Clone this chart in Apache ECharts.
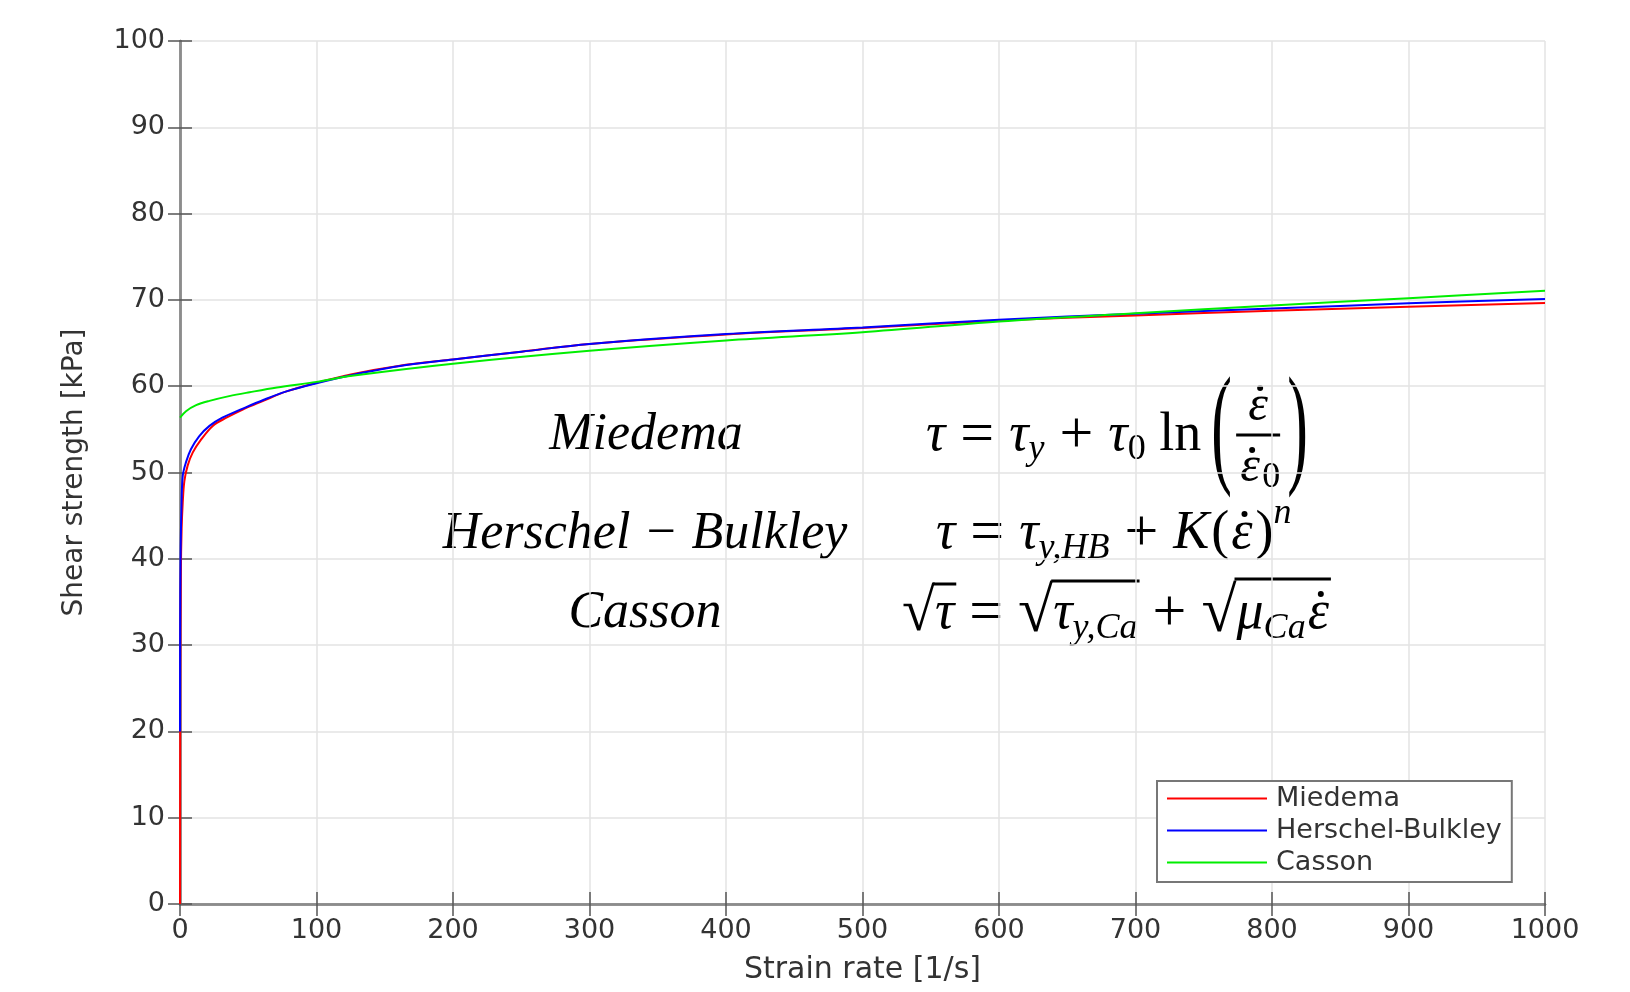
<!DOCTYPE html>
<html>
<head>
<meta charset="utf-8">
<script src="https://cdn.jsdelivr.net/npm/echarts@6/dist/echarts.min.js"></script>
<style>
  html, body { margin: 0; padding: 0; background: #fff; }
  #main { width: 1630px; height: 992px; }
</style>
</head>
<body>
<div id="main"></div>
<script>
// values
var miedemaRate = [0, 0.2, 0.6, 1.2, 2, 3.2, 5.6, 9.3, 15.4, 24, 34, 46, 61, 78, 100, 126, 160, 200, 250, 300, 400, 500, 600, 700, 800, 900, 1000];
var miedemaTau  = [0, 25, 38, 43.5, 46.5, 49, 50.8, 52.3, 53.8, 55.4, 56.35, 57.3, 58.3, 59.4, 60.4, 61.4, 62.35, 63.1, 64.0, 64.9, 66.0, 66.75, 67.6, 68.2, 68.75, 69.2, 69.65];

var hbRate = [0, 0.1, 0.4, 1, 2, 4.4, 8, 14, 21.6, 31, 46, 61, 78, 100, 120, 160, 200, 250, 300, 400, 500, 600, 700, 800, 900, 1000];
var hbTau  = [20, 32, 40, 45.5, 49.6, 51.2, 52.7, 54.2, 55.4, 56.35, 57.4, 58.4, 59.4, 60.35, 61.1, 62.3, 63.1, 64.0, 64.9, 66.05, 66.8, 67.7, 68.4, 69.0, 69.6, 70.1];

var cassonRate = [0, 4.4, 11.8, 21.6, 36, 51, 71, 100, 126, 200, 300, 400, 500, 600, 700, 800, 900, 1000];
var cassonTau  = [56.35, 57.1, 57.8, 58.3, 58.85, 59.3, 59.85, 60.5, 61.2, 62.6, 64.1, 65.3, 66.25, 67.5, 68.45, 69.35, 70.2, 71.05];

var xTicks = { min: 0, max: 1000, interval: 100 };
var yTicks = { min: 0, max: 100, interval: 10 };

function pairs(xs, ys) {
  return xs.map(function (x, i) { return [x, ys[i]]; });
}

// formula layout: pieces set one after the other, widths from canvas
var FF = 'Liberation Serif';
var mctx = document.createElement('canvas').getContext('2d');
function txt(x, y, t, size, italic, align) {
  return {
    type: 'text', x: x, y: y, silent: true,
    style: { text: t, fill: '#000', fontSize: size, fontFamily: FF,
      fontStyle: italic ? 'italic' : 'normal', verticalAlign: 'middle', align: align || 'left' }
  };
}
function dot(x, y) {
  return { type: 'circle', silent: true, shape: { cx: x, cy: y, r: 3 }, style: { fill: '#000' } };
}
function formula(x0, y0, pieces) {
  var els = [];
  var x = x0;
  var overStart = null, overY = 0;
  pieces.forEach(function (p) {
    var size = p.size || 54;
    var italic = p.italic !== false;
    mctx.font = (italic ? 'italic ' : 'normal ') + size + 'px "' + FF + '"';
    var w = mctx.measureText(p.t).width;
    els.push(txt(x, y0 + (p.dy || 0), p.t, size, italic));
    if (p.dot) els.push(dot(x + w * 0.62, y0 - 20));
    if (p.over != null) { overStart = x - 2; overY = y0 + p.over; }
    x += w + (p.gap || 0);
    if (p.overEnd) {
      els.push({ type: 'line', silent: true,
        shape: { x1: overStart, y1: overY, x2: x + 2, y2: overY },
        style: { stroke: '#000', lineWidth: 3 } });
    }
  });
  return { els: els, x: x };
}
function word(cx, cy, t) {
  return txt(cx, cy, t, 52, true, 'center');
}

var graphics = [];
graphics.push(word(646, 435, 'Miedema'));
graphics.push(word(645, 534, 'Herschel \u2212 Bulkley'));
graphics.push(word(645, 613, 'Casson'));

var EQ = { t: ' = ', italic: false, size: 60 };
var PL = { t: ' + ', italic: false, size: 60 };

// Miedema
var f1 = formula(926, 436, [
  { t: 'τ' }, EQ, { t: 'τ' }, { t: 'y', size: 36, dy: 14 },
  PL, { t: 'τ' }, { t: '0', size: 36, dy: 14, italic: false },
  { t: ' ln', italic: false, gap: 10 }
]);
graphics = graphics.concat(f1.els);
var P = f1.x;
var lp = txt(P, 434, '(', 62, false); lp.scaleY = 2.15; graphics.push(lp);
var rp = txt(P + 76, 434, ')', 62, false); rp.scaleY = 2.15; graphics.push(rp);
var fx = P + 47;
graphics.push(txt(fx, 407, 'ε', 50, true, 'center'));
graphics.push(dot(fx + 2, 388));
graphics.push({ type: 'line', silent: true, shape: { x1: fx - 22, y1: 435, x2: fx + 22, y2: 435 }, style: { stroke: '#000', lineWidth: 3 } });
graphics.push(txt(fx - 8, 468, 'ε', 50, true, 'center'));
graphics.push(dot(fx - 6, 450));
graphics.push(txt(fx + 4, 478, '0', 36, false));

// Herschel-Bulkley
var f2 = formula(936, 534, [
  { t: 'τ' }, EQ, { t: 'τ' }, { t: 'y,HB', size: 36, dy: 15 },
  PL, { t: 'K', gap: 2 }, { t: '(', italic: false, gap: 2 }, { t: 'ε', dot: true, gap: 3 }, { t: ')', italic: false },
  { t: 'n', size: 36, dy: -20 }
]);
graphics = graphics.concat(f2.els);

// Casson
var f3 = formula(902, 614, [
  { t: '√', italic: false, size: 60 }, { t: 'τ', over: -30, overEnd: true }, EQ,
  { t: '√', italic: false, size: 64 }, { t: 'τ', over: -33 }, { t: 'y,Ca', size: 36, dy: 15, overEnd: true },
  PL,
  { t: '√', italic: false, size: 64 }, { t: 'μ', over: -35 }, { t: 'Ca', size: 36, dy: 15, gap: 2 }, { t: 'ε', dot: true, overEnd: true }
]);
graphics = graphics.concat(f3.els);

var chart = echarts.init(document.getElementById('main'));
var axisLineStyle = { color: '#8c8c8c', width: 2.5 };
var tickStyle = { color: '#555', width: 1.5 };
var splitStyle = { color: '#e3e3e3', width: 1.5 };
var labelFont = { fontFamily: 'DejaVu Sans', fontSize: 27, color: '#333', formatter: function (v) { return String(v); } };

chart.setOption({
  animation: false,
  backgroundColor: '#fff',
  grid: { left: 180, right: 85, top: 41, bottom: 88 },
  legend: {
    left: 1157, top: 781, orient: 'vertical',
    icon: 'rect', itemWidth: 100, itemHeight: 2, itemGap: 5,
    padding: [4, 10, 6, 10],
    borderColor: '#777', borderWidth: 2, backgroundColor: '#fff',
    textStyle: { fontFamily: 'DejaVu Sans', fontSize: 27, color: '#333', lineHeight: 26, padding: [0, 0, 0, 4] },
    data: ['Miedema', 'Herschel-Bulkley', 'Casson']
  },
  xAxis: [{
    type: 'value', min: xTicks.min, max: xTicks.max, interval: xTicks.interval,
    name: 'Strain rate [1/s]', nameLocation: 'middle', nameGap: 51,
    nameTextStyle: { fontFamily: 'DejaVu Sans', fontSize: 30, color: '#333' },
    axisLine: { show: true, lineStyle: axisLineStyle },
    axisTick: { show: true, inside: true, length: 12, lineStyle: tickStyle },
    axisLabel: Object.assign({ margin: 13 }, labelFont),
    splitLine: { show: true, lineStyle: splitStyle }
  }, {
    type: 'value', position: 'top', min: xTicks.min, max: xTicks.max, interval: xTicks.interval,
    axisLine: { show: true, lineStyle: axisLineStyle },
    axisTick: { show: true, inside: true, length: 12, lineStyle: tickStyle },
    axisLabel: { show: false }, splitLine: { show: false }
  }],
  yAxis: [{
    type: 'value', min: yTicks.min, max: yTicks.max, interval: yTicks.interval,
    name: 'Shear strength [kPa]', nameLocation: 'middle', nameGap: 91, nameRotate: 90,
    nameTextStyle: { fontFamily: 'DejaVu Sans', fontSize: 28, color: '#333' },
    axisLine: { show: true, lineStyle: axisLineStyle },
    axisTick: { show: true, inside: true, length: 12, lineStyle: tickStyle },
    axisLabel: Object.assign({ margin: 15 }, labelFont),
    splitLine: { show: true, lineStyle: splitStyle }
  }, {
    type: 'value', position: 'right', min: yTicks.min, max: yTicks.max, interval: yTicks.interval,
    axisLine: { show: true, lineStyle: axisLineStyle },
    axisTick: { show: true, inside: true, length: 12, lineStyle: tickStyle },
    axisLabel: { show: false }, splitLine: { show: false }
  }],
  series: [{
    name: 'Miedema', type: 'line', data: pairs(miedemaRate, miedemaTau),
    symbol: 'none', smooth: 0.35, color: '#ff0000', lineStyle: { width: 2 }, z: 3
  }, {
    name: 'Herschel-Bulkley', type: 'line', data: pairs(hbRate, hbTau),
    symbol: 'none', smooth: 0.35, color: '#0000ff', lineStyle: { width: 2 }, z: 4
  }, {
    name: 'Casson', type: 'line', data: pairs(cassonRate, cassonTau),
    symbol: 'none', smooth: 0.35, color: '#00ee00', lineStyle: { width: 2 }, z: 5
  }],
  graphic: graphics
});
</script>
</body>
</html>
